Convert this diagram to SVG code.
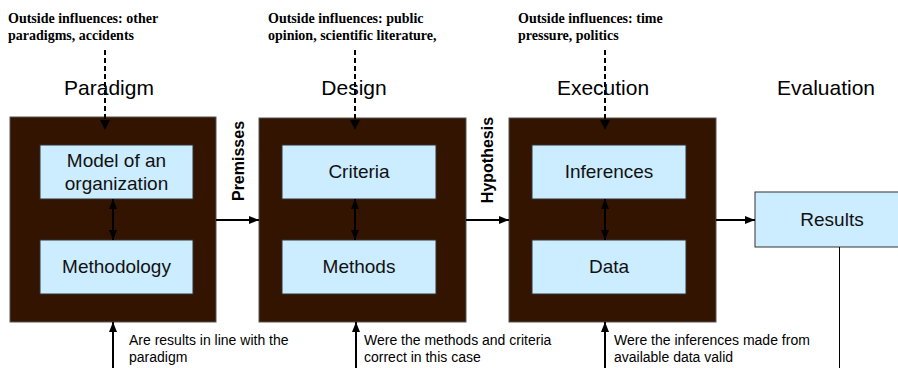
<svg xmlns="http://www.w3.org/2000/svg" width="898" height="368" viewBox="0 0 898 368">
<style>
.outer{fill:#331400;stroke:#555;stroke-width:1}
.inner{fill:#CCECFF;stroke:#333;stroke-width:1}
.lbl{font-family:"Liberation Sans",Arial,sans-serif;font-size:19px;fill:#111;text-anchor:middle}
.title{font-family:"Liberation Sans",Arial,sans-serif;font-size:21px;fill:#000;text-anchor:middle}
.infl{font-family:"Liberation Serif","Times New Roman",serif;font-size:14px;font-weight:bold;fill:#000}
.q{font-family:"Liberation Sans",Arial,sans-serif;font-size:14px;fill:#000}
.rot{font-family:"Liberation Sans",Arial,sans-serif;font-size:16px;font-weight:bold;fill:#000;text-anchor:middle}
.ln{stroke:#000;stroke-width:2;fill:none}
.dash{stroke:#000;stroke-width:2;fill:none;stroke-dasharray:5 3}
.thin{stroke:#000;stroke-width:1;fill:none}
</style>
<defs>
<marker id="ah" markerUnits="userSpaceOnUse" viewBox="0 0 10 10" refX="10" refY="5" markerWidth="10" markerHeight="10" orient="auto-start-reverse">
<path d="M0,1 L10,5 L0,9 Z" fill="#000"/>
</marker>
</defs>
<rect width="898" height="368" fill="#fff"/>

<g id="texts">
<text class="infl" x="8" y="23">Outside influences: other</text>
<text class="infl" x="8" y="40">paradigms, accidents</text>
<text class="infl" x="268" y="23">Outside influences: public</text>
<text class="infl" x="268" y="40">opinion, scientific literature,</text>
<text class="infl" x="518" y="23">Outside influences: time</text>
<text class="infl" x="518" y="40">pressure, politics</text>
<text class="title" x="109" y="95">Paradigm</text>
<text class="title" x="354" y="95">Design</text>
<text class="title" x="603" y="95">Execution</text>
<text class="title" x="826" y="95">Evaluation</text>
<text class="rot" transform="translate(244,161) rotate(-90)">Premisses</text>
<text class="rot" transform="translate(493,160) rotate(-90)">Hypothesis</text>
<text class="q" x="129" y="345">Are results in line with the</text>
<text class="q" x="129" y="362">paradigm</text>
<text class="q" x="364" y="345">Were the methods and criteria</text>
<text class="q" x="364" y="362">correct in this case</text>
<text class="q" x="614" y="345">Were the inferences made from</text>
<text class="q" x="614" y="362">available data valid</text>
</g>

<g id="paradigm">
<rect class="outer" x="10" y="117" width="206" height="205"/>
<rect id="model" class="inner" x="40" y="145" width="153" height="54"/>
<text class="lbl" x="116.5" y="167">Model of an</text>
<text class="lbl" x="116.5" y="190">organization</text>
<rect id="methodology" class="inner" x="40" y="240" width="153" height="54"/>
<text class="lbl" x="116.5" y="273">Methodology</text>
</g>

<g id="design">
<rect class="outer" x="259" y="118" width="207" height="204"/>
<rect id="criteria" class="inner" x="282" y="145" width="154" height="54"/>
<text class="lbl" x="359" y="178">Criteria</text>
<rect id="methods" class="inner" x="282" y="240" width="154" height="54"/>
<text class="lbl" x="359" y="273">Methods</text>
</g>

<g id="execution">
<rect class="outer" x="509" y="118" width="207" height="204"/>
<rect id="inferences" class="inner" x="532" y="145" width="154" height="54"/>
<text class="lbl" x="609" y="178">Inferences</text>
<rect id="data" class="inner" x="532" y="240" width="154" height="54"/>
<text class="lbl" x="609" y="273">Data</text>
</g>

<g id="results">
<rect class="inner" x="755" y="192" width="150" height="55"/>
<text class="lbl" x="832" y="226">Results</text>
</g>

<g id="connectors">
<path class="dash" d="M105,50 V121" />
<path d="M100,120 L105,130 L110,120 Z" fill="#000"/>
<path class="dash" d="M355,50 V121" />
<path d="M350,120 L355,130 L360,120 Z" fill="#000"/>
<path class="dash" d="M605,50 V121" />
<path d="M600,120 L605,130 L610,120 Z" fill="#000"/>
<line class="ln" x1="113" y1="199" x2="113" y2="240" marker-start="url(#ah)" marker-end="url(#ah)"/>
<line class="ln" x1="355" y1="199" x2="355" y2="240" marker-start="url(#ah)" marker-end="url(#ah)"/>
<line class="ln" x1="605" y1="199" x2="605" y2="240" marker-start="url(#ah)" marker-end="url(#ah)"/>
<line class="ln" x1="216" y1="220" x2="259" y2="220" marker-end="url(#ah)"/>
<line class="ln" x1="466" y1="220" x2="509" y2="220" marker-end="url(#ah)"/>
<line class="ln" x1="716" y1="220" x2="755" y2="220" marker-end="url(#ah)"/>
<line class="ln" x1="113" y1="368" x2="113" y2="322" marker-end="url(#ah)"/>
<line class="ln" x1="356" y1="368" x2="356" y2="322" marker-end="url(#ah)"/>
<line class="ln" x1="605" y1="368" x2="605" y2="322" marker-end="url(#ah)"/>
<line class="thin" x1="839.5" y1="247" x2="839.5" y2="368"/>
</g>
</svg>
